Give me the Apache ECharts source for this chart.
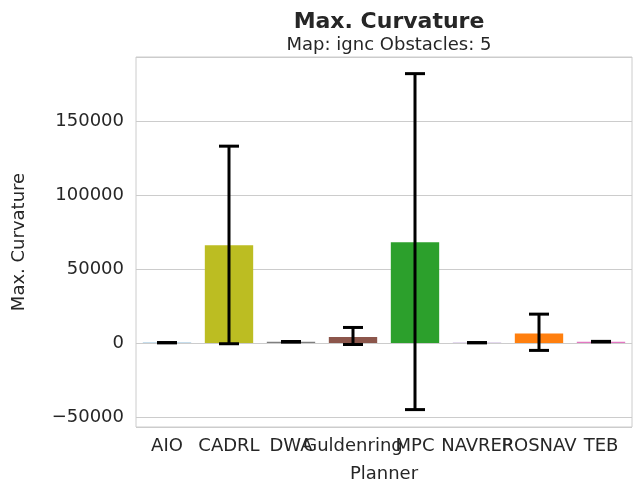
<!DOCTYPE html>
<html>
<head>
<meta charset="UTF-8">
<script src="https://cdn.jsdelivr.net/npm/echarts/dist/echarts.min.js"></script>
<style>
  body { margin: 0; background: #fff; }
  #chart { width: 641px; height: 492px; }
</style>
</head>
<body>
<div id="chart"></div>
<script>
  const planners = ['AIO', 'CADRL', 'DWA', 'Guldenring', 'MPC', 'NAVREP', 'ROSNAV', 'TEB'];
  const means = [200, 66000, 800, 4000, 68000, 200, 6500, 900];
  const errLow = [100, -500, 600, -1000, -45000, 100, -5000, 700];
  const errHigh = [300, 133000, 1000, 10500, 182000, 300, 19500, 1100];
  const colors = ['#1f77b4', '#bcbd22', '#7f7f7f', '#8c564b', '#2ca02c', '#9467bd', '#ff7f0e', '#e377c2'];

  const font = 'DejaVu Sans';
  const chart = echarts.init(document.getElementById('chart'));
  chart.setOption({
    animation: false,
    title: [
      { text: 'Max. Curvature', left: 384, top: 6, textAlign: 'center',
        textStyle: { fontFamily: font, fontSize: 22, fontWeight: 'bold', color: '#262626' } },
      { text: 'Map: ignc Obstacles: 5', left: 384, top: 31, textAlign: 'center',
        textStyle: { fontFamily: font, fontSize: 18, fontWeight: 'normal', color: '#262626' } }
    ],
    grid: { left: 136, right: 9, top: 57, bottom: 65, show: true, borderColor: '#cccccc', borderWidth: 1 },
    xAxis: {
      type: 'category', data: planners,
      name: 'Planner', nameLocation: 'middle', nameGap: 38,
      nameTextStyle: { fontFamily: font, fontSize: 18, color: '#262626' },
      axisLine: { show: false }, axisTick: { show: false },
      axisLabel: { fontFamily: font, fontSize: 18, color: '#262626', interval: 0, margin: 10 }
    },
    yAxis: {
      type: 'value', min: -56757, max: 193243,
      name: 'Max. Curvature', nameLocation: 'middle', nameGap: 108,
      nameTextStyle: { fontFamily: font, fontSize: 18, color: '#262626' },
      axisLine: { show: false }, axisTick: { show: false },
      splitLine: { lineStyle: { color: '#cccccc', width: 1 } },
      axisLabel: { fontFamily: font, fontSize: 18, color: '#262626', margin: 12,
        formatter: v => (Math.abs(v % 50000) < 1 ? String(v).replace('-', '\u2212') : '') }
    },
    series: [
      {
        type: 'bar', barWidth: '78%',
        data: means.map((v, i) => ({ value: v, itemStyle: { color: colors[i] } }))
      },
      {
        type: 'custom',
        data: planners.map((p, i) => [i, errLow[i], errHigh[i]]),
        renderItem: (params, api) => {
          const lo = api.coord([api.value(0), api.value(1)]);
          const hi = api.coord([api.value(0), api.value(2)]);
          const w = 10;
          const st = { stroke: '#000', lineWidth: 3 };
          return { type: 'group', children: [
            { type: 'line', shape: { x1: lo[0], y1: lo[1], x2: hi[0], y2: hi[1] }, style: st },
            { type: 'line', shape: { x1: lo[0] - w, y1: lo[1], x2: lo[0] + w, y2: lo[1] }, style: st },
            { type: 'line', shape: { x1: hi[0] - w, y1: hi[1], x2: hi[0] + w, y2: hi[1] }, style: st }
          ] };
        },
        z: 5
      }
    ]
  });
</script>
</body>
</html>
